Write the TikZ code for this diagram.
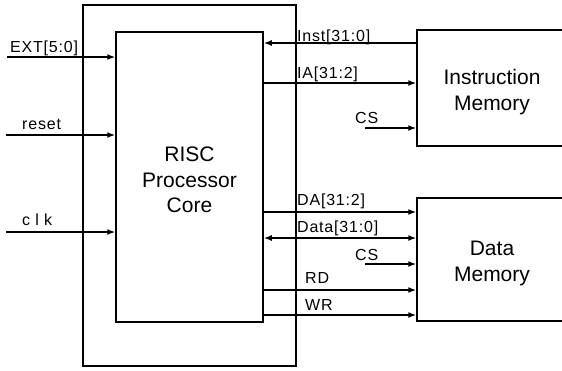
\documentclass[tikz,border=0pt]{standalone}
\usepackage{fontspec}
\setmainfont{Liberation Sans}
\newfontfamily\lblfont[LetterSpace=5]{Liberation Sans}
\usetikzlibrary{arrows.meta}
\begin{document}
\begin{tikzpicture}[x=1pt,y=-1pt,
  box/.style={draw,line width=1.5pt,inner sep=0pt},
  sig/.style={line width=1.5pt},
  arr/.style={sig,-{Latex[length=8pt,width=6pt]}},
  barr/.style={sig,{Latex[length=8pt,width=6pt]}-{Latex[length=8pt,width=6pt]}},
  lbl/.style={font=\lblfont\fontsize{16}{18}\selectfont,inner sep=0pt,anchor=base west},
  big/.style={font=\fontsize{21}{25.5}\selectfont,align=center}]
\useasboundingbox (0,0) rectangle (562,370);
\clip (0,0) rectangle (562,370);
% blocks
\node[box,minimum width=213pt,minimum height=361pt] (outer) at (189.5,185.5) {};
\node[box,minimum width=147pt,minimum height=290pt,
  label={[big,yshift=-3pt]center:RISC\\Processor\\Core}] (core) at (189.5,177) {};
\node[box,minimum width=150pt,minimum height=116pt,
  label={[big,yshift=-4pt]center:Instruction\\Memory}] (imem) at (492,88) {};
\node[box,minimum width=150pt,minimum height=123pt,
  label={[big,yshift=-4pt]center:Data\\Memory}] (dmem) at (492,259.5) {};
% left inputs
\coordinate (extin) at (7,57);
\coordinate (rstin) at (6,135);
\coordinate (clkin) at (6,232);
\draw[arr] (extin) -- (extin -| core.west);
\draw[arr] (rstin) -- (rstin -| core.west);
\draw[arr] (clkin) -- (clkin -| core.west);
\node[lbl] (extl) at (10,52) {EXT[5:0]};
\node[lbl] (rstl) at (22,129) {reset};
\node[lbl] (clkl) at (22,225) {c l k};
% instruction memory signals
\coordinate (yinst) at (0,43);
\coordinate (yia) at (0,83);
\coordinate (csi) at (365,128);
\draw[arr] (imem.west |- yinst) -- (core.east |- yinst);
\draw[arr] (core.east |- yia) -- (imem.west |- yia);
\draw[arr] (csi) -- (csi -| imem.west);
\node[lbl] (instl) at (297,41) {Inst[31:0]};
\node[lbl] (ial) at (297,78) {IA[31:2]};
\node[lbl] (csil) at (355,123) {CS};
% data memory signals
\coordinate (yda) at (0,212);
\coordinate (ydata) at (0,238);
\coordinate (csd) at (365,264);
\coordinate (yrd) at (0,290);
\coordinate (ywr) at (0,315);
\draw[arr] (core.east |- yda) -- (dmem.west |- yda);
\draw[barr] (core.east |- ydata) -- (dmem.west |- ydata);
\draw[arr] (csd) -- (csd -| dmem.west);
\draw[arr] (core.east |- yrd) -- (dmem.west |- yrd);
\draw[arr] (core.east |- ywr) -- (dmem.west |- ywr);
\node[lbl] (dal) at (297,205) {DA[31:2]};
\node[lbl] (datal) at (297,232) {Data[31:0]};
\node[lbl] (csdl) at (355,260) {CS};
\node[lbl] (rdl) at (305,283) {RD};
\node[lbl] (wrl) at (305,310) {WR};
\end{tikzpicture}
\end{document}
